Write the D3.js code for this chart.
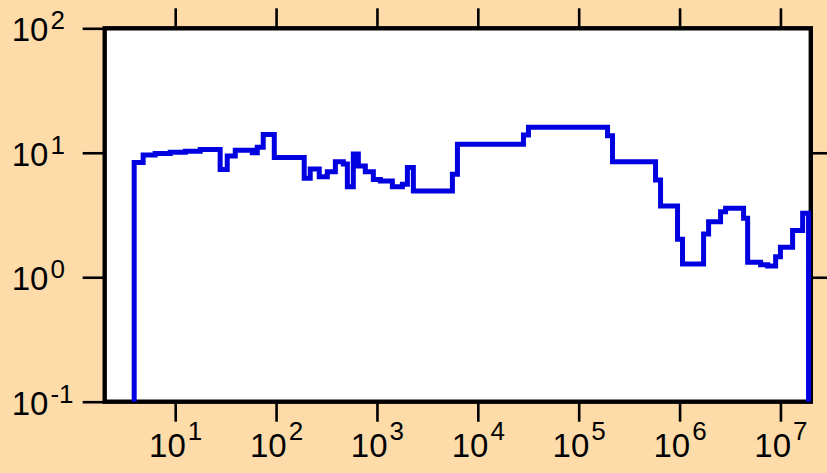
<!DOCTYPE html>
<html>
<head>
<meta charset="utf-8">
<script src="https://cdn.jsdelivr.net/npm/d3@7"></script>
<style>
  html, body { margin: 0; padding: 0; background: #fddcaa; }
  svg { display: block; font-family: "Liberation Sans", Arial, Helvetica, sans-serif; }
</style>
</head>
<body>
<div id="chart"></div>
<script>
// bin edges (x) and step values (y)
var binEdges = [3.92, 4.81, 6.33, 8.92, 12.6, 17.7, 27.9, 32.8, 39.4, 58.1, 65.1, 74.6, 96,
  190, 218, 268, 322, 387, 464, 509, 583, 654, 767, 921, 1081, 1422, 1786, 2004, 2296,
  5598, 6280, 28340, 31770, 193200, 216400, 578000, 648000, 955000, 1.07e6, 1.73e6,
  1.94e6, 2.55e6, 2.86e6, 4.31e6, 4.73e6, 6.36e6, 7.47e6, 8.96e6, 1.0e7, 1.32e7, 1.66e7, 1.9e7];

var binValues = [8.34, 9.58, 9.85, 10.1, 10.3, 10.6, 7.33, 9.40, 10.5, 10.0, 11.1, 14.0, 9.15,
  6.23, 7.40, 6.42, 7.04, 8.47, 8.11, 5.33, 9.76, 7.82, 7.04, 6.11, 5.93, 5.33, 5.58, 7.63,
  4.93, 6.71, 11.7, 13.9, 16.0, 13.7, 8.47, 6.04, 3.73, 2.02, 1.28, 2.23, 2.79, 3.36, 3.58,
  2.98, 1.32, 1.26, 1.23, 1.46, 1.74, 2.37, 3.26];

var xTicks = [1e1, 1e2, 1e3, 1e4, 1e5, 1e6, 1e7];
var xTickExp = ["1", "2", "3", "4", "5", "6", "7"];
var yTicks = [1e-1, 1e0, 1e1, 1e2];
var yTickExp = ["-1", "0", "1", "2"];
var rightTicks = [1e0, 1e1];

var margin = {top: 28.3, right: 16.2, bottom: 71.3, left: 104.7},
    width = 827 - margin.left - margin.right,
    height = 473 - margin.top - margin.bottom;

var svg = d3.select("#chart")
  .append("svg")
    .attr("width", 827)
    .attr("height", 473)
  .append("g")
    .attr("transform", "translate(" + margin.left + "," + margin.top + ")");

var x = d3.scaleLog().domain([2, 2e7]).range([0, width]);
var y = d3.scaleLog().domain([0.1, 100]).range([height, 0]);

// plot area
svg.append("rect")
  .attr("width", width)
  .attr("height", height)
  .attr("fill", "white");

function styleAxis(g) {
  g.select(".domain").remove();
  g.selectAll(".tick line").attr("stroke", "black").attr("stroke-width", 2.6);
}

// bottom axis
var gx = svg.append("g")
  .attr("transform", "translate(0," + height + ")")
  .call(d3.axisBottom(x).tickValues(xTicks).tickSize(20).tickSizeOuter(0));
styleAxis(gx);
gx.selectAll(".tick text").each(function(d, i) {
  var t = d3.select(this).text(null)
    .attr("y", 55).attr("dy", null)
    .attr("fill", "black")
    .attr("font-size", 33)
    .attr("text-anchor", "middle");
  t.append("tspan").text("10");
  t.append("tspan").attr("dx", 2).attr("dy", -16.7).attr("font-size", 26).text(xTickExp[i]);
});

// top ticks
var gt = svg.append("g")
  .call(d3.axisTop(x).tickValues(xTicks).tickSize(20).tickSizeOuter(0).tickFormat(""));
styleAxis(gt);

// left axis
var gy = svg.append("g")
  .call(d3.axisLeft(y).tickValues(yTicks).tickSize(22).tickSizeOuter(0));
styleAxis(gy);
gy.selectAll(".tick text").each(function(d, i) {
  var t = d3.select(this).text(null)
    .attr("x", -93).attr("y", 12.3).attr("dy", null)
    .attr("fill", "black")
    .attr("font-size", 33)
    .attr("text-anchor", "start");
  t.append("tspan").text("10");
  t.append("tspan").attr("dx", 2).attr("dy", -11.7).attr("font-size", 26).text(yTickExp[i]);
});

// right ticks
var gr = svg.append("g")
  .attr("transform", "translate(" + width + ",0)")
  .call(d3.axisRight(y).tickValues(rightTicks).tickSize(22).tickSizeOuter(0).tickFormat(""));
styleAxis(gr);

// frame
svg.append("rect")
  .attr("width", width)
  .attr("height", height)
  .attr("fill", "none")
  .attr("stroke", "black")
  .attr("stroke-width", 4.4);

// step line
var pts = [[binEdges[0], 0.1]];
binValues.forEach(function(v, i) { pts.push([binEdges[i], v]); });
pts.push([binEdges[binEdges.length - 1], binValues[binValues.length - 1]]);
pts.push([binEdges[binEdges.length - 1], 0.1]);

var line = d3.line()
  .x(function(d) { return x(d[0]); })
  .y(function(d) { return y(d[1]); })
  .curve(d3.curveStepAfter);

svg.append("path")
  .datum(pts)
  .attr("d", line)
  .attr("fill", "none")
  .attr("stroke", "#0000e0")
  .attr("stroke-width", 5)
  .attr("stroke-linejoin", "miter");
</script>
</body>
</html>
